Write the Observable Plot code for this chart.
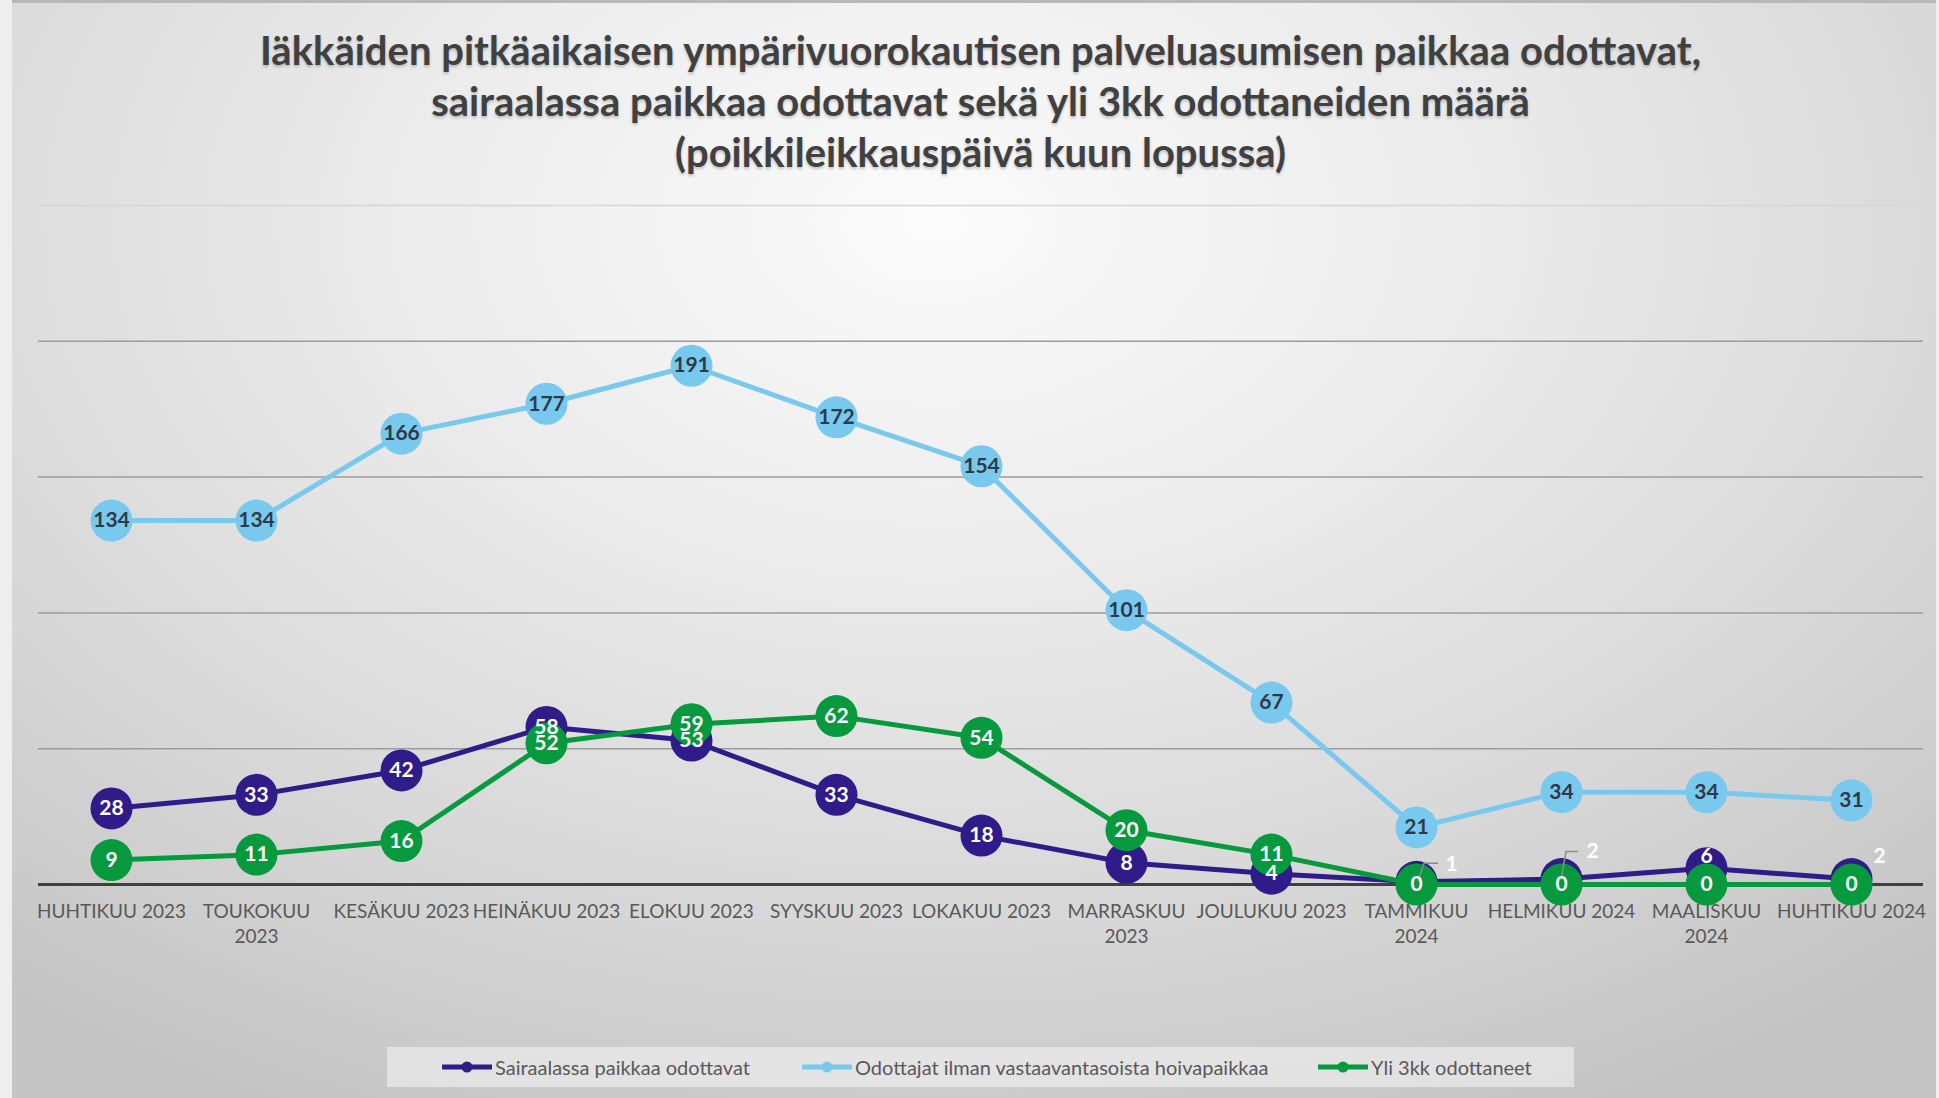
<!DOCTYPE html>
<html><head><meta charset="utf-8">
<script src="https://cdn.jsdelivr.net/npm/d3@7"></script>
<script src="https://cdn.jsdelivr.net/npm/@observablehq/plot@0.6"></script>
<style>
html,body{margin:0;padding:0;}
body{width:1939px;height:1098px;overflow:hidden;position:relative;background:#eeeeee;font-family:Lato,"Open Sans",sans-serif;}
#frame{position:absolute;left:12px;top:0;width:1924px;height:1098px;border-top:3px solid #b8b8b8;box-sizing:border-box;
background:radial-gradient(ellipse 78% 90% at 48% 20%, #fbfbfb 0%, #ececec 35%, #d8d8d8 70%, #c4c4c4 100%);}
#title{position:absolute;left:38px;width:1885px;top:25px;text-align:center;font-size:40px;line-height:51px;font-weight:700;color:#404040;text-shadow:0 2px 3px rgba(0,0,0,0.22);}
#chart{position:absolute;left:0;top:160px;}
#legend{position:absolute;left:387px;top:1047px;width:1187px;height:40px;background:rgba(245,245,245,0.55);}
.item{position:absolute;top:0;height:40px;display:flex;align-items:center;font-size:20px;color:#595959;}
.item svg{margin-right:2px;}
</style></head>
<body>
<div id="frame"></div>
<div id="title"></div>
<div id="chart"></div>
<div id="legend"></div>
<script>
const titleLines = [
  "Iäkkäiden pitkäaikaisen ympärivuorokautisen palveluasumisen paikkaa odottavat,",
  "sairaalassa paikkaa odottavat sekä yli 3kk odottaneiden määrä",
  "(poikkileikkauspäivä kuun lopussa)"
];
const months = ["HUHTIKUU 2023","TOUKOKUU 2023","KESÄKUU 2023","HEINÄKUU 2023","ELOKUU 2023","SYYSKUU 2023","LOKAKUU 2023","MARRASKUU 2023","JOULUKUU 2023","TAMMIKUU 2024","HELMIKUU 2024","MAALISKUU 2024","HUHTIKUU 2024"];
const sairaalassa = [28,33,42,58,53,33,18,8,4,1,2,6,2];
const odottajat = [134,134,166,177,191,172,154,101,67,21,34,34,31];
const yli3kk = [9,11,16,52,59,62,54,20,11,0,0,0,0];
const seriesNames = ["Sairaalassa paikkaa odottavat","Odottajat ilman vastaavantasoista hoivapaikkaa","Yli 3kk odottaneet"];
const gridTicks = [50,100,150,200];
const topTick = 250;

const colors = ["#2f1c8a","#79c9ee","#07993d"];
const labelColors = ["#ffffff","#2e3a48","#ffffff"];
const wrapped = new Set(["TOUKOKUU 2023","MARRASKUU 2023","TAMMIKUU 2024","MAALISKUU 2024"]);

document.getElementById("title").innerHTML = titleLines.join("<br>");

const seriesValues = [sairaalassa, odottajat, yli3kk];
const rows = [];
seriesValues.forEach((vals, s) => vals.forEach((v, i) => rows.push({s, i, month: months[i], value: v})));
const bySeries = s => rows.filter(d => d.s === s);

// labels of small navy values that Excel moved away from the marker
const moved = {9: [35, -18], 10: [31, -28], 11: [0, -12], 12: [28, -23]};
const leaders = {9: [[2,0],[8,-18],[22,-18]], 10: [[0,1],[5,-27],[17,-27]]};

const font = "Lato, 'Open Sans', sans-serif";
const marks = [
  Plot.ruleY([topTick], {stroke: "#d6d6d6", strokeWidth: 1.5}),
  Plot.ruleY(gridTicks, {stroke: "#9c9c9c", strokeWidth: 1.5}),
  Plot.ruleY([0], {stroke: "#404040", strokeWidth: 3}),
  Plot.axisX({tickSize: 0, tickPadding: 15, fontSize: 19, fill: "#595959", lineHeight: 1.35, label: null,
    tickFormat: d => wrapped.has(d) ? d.replace(" ", "\n") : d}),
];
for (const s of [1, 0, 2]) {
  marks.push(Plot.line(bySeries(s), {x: "month", y: "value", stroke: colors[s], strokeWidth: 5}));
  marks.push(Plot.dot(bySeries(s), {x: "month", y: "value", r: 21, fill: colors[s], stroke: "none"}));
}
marks.push((index, scales) => {
  const g = d3.create("svg:g").attr("fill", "none").attr("stroke", "#8a8a8a").attr("stroke-width", 1.5);
  for (const [i, pts] of Object.entries(leaders)) {
    const x0 = scales.x(months[i]), y0 = scales.y(sairaalassa[i]);
    g.append("path").attr("d", d3.line()(pts.map(([dx, dy]) => [x0 + dx, y0 + dy])));
  }
  return g.node();
});
for (const s of [1, 0, 2]) {
  const data = bySeries(s).filter(d => !(s === 0 && d.i in moved));
  marks.push(Plot.text(data, {x: "month", y: "value", text: "value", fill: labelColors[s], fontSize: 21, fontWeight: "bold"}));
}
for (const [i, [dx, dy]] of Object.entries(moved)) {
  marks.push(Plot.text([rows.find(d => d.s === 0 && d.i === +i)], {x: "month", y: "value", text: "value", fill: "#ffffff", fontSize: 21, fontWeight: "bold", dx, dy}));
}

const chart = Plot.plot({
  width: 1939, height: 800,
  marginTop: 45, marginBottom: 76, marginLeft: 38, marginRight: 16,
  style: {background: "transparent", fontFamily: font, overflow: "visible"},
  x: {type: "point", domain: months, padding: 0.5, axis: null, label: null},
  y: {domain: [0, 250], axis: null, label: null},
  marks
});
document.getElementById("chart").appendChild(chart);

// legend
const legend = document.getElementById("legend");
const legendX = [54, 414, 930];
seriesNames.forEach((name, s) => {
  const div = document.createElement("div");
  div.className = "item";
  div.style.left = legendX[s] + "px";
  div.innerHTML = `<svg width="52" height="14"><line x1="1" x2="51" y1="7" y2="7" stroke="${colors[s]}" stroke-width="5"/><circle cx="26" cy="7" r="5.5" fill="${colors[s]}"/></svg><span>${name}</span>`;
  legend.appendChild(div);
});
</script>
</body></html>
